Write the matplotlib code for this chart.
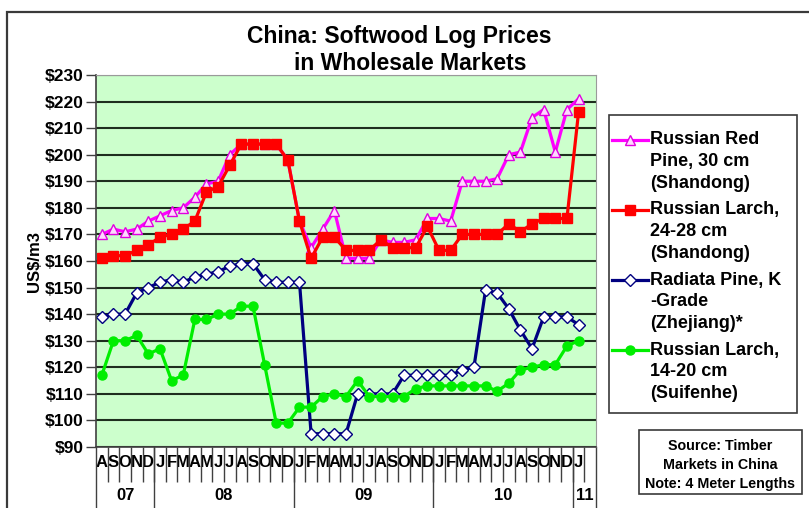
import matplotlib
matplotlib.use("Agg")
import matplotlib.pyplot as plt
from matplotlib.lines import Line2D
from matplotlib.patches import Rectangle
import matplotlib.transforms as mtransforms

plt.rcParams['font.family'] = ['Liberation Sans', 'DejaVu Sans']
plt.rcParams['font.weight'] = 'bold'

W, H = 809, 508

# monthly prices, Aug 2007 .. Jan 2011 (US$/m3)
red_pine = [170, 172, 171, 172, 175, 177, 179, 180, 184, 189, 190, 200, 204, 204,
            204, 204, 198, 175, 165, 172, 179, 161, 161, 161, 168, 167, 167, 168,
            176, 176, 175, 190, 190, 190, 191, 200, 201, 214, 217, 201, 217, 221]
larch_sd = [161, 162, 162, 164, 166, 169, 170, 172, 175, 186, 188, 196, 204, 204,
            204, 204, 198, 175, 161, 169, 169, 164, 164, 164, 168, 165, 165, 165,
            173, 164, 164, 170, 170, 170, 170, 174, 171, 174, 176, 176, 176, 216]
radiata = [139, 140, 140, 148, 150, 152, 153, 152, 154, 155, 156, 158, 159, 159,
           153, 152, 152, 152, 95, 95, 95, 95, 110, 110, 110, 110, 117, 117,
           117, 117, 117, 119, 120, 149, 148, 142, 134, 127, 139, 139, 139, 136]
larch_sf = [117, 130, 130, 132, 125, 127, 115, 117, 138, 138, 140, 140, 143, 143,
            121, 99, 99, 105, 105, 109, 110, 109, 115, 109, 109, 109, 109, 112,
            113, 113, 113, 113, 113, 113, 111, 114, 119, 120, 121, 121, 128, 130]

months = list("ASOND") + list("JFMAMJJASOND") * 3 + ["J", ""]
years = ["07", "08", "09", "10", "11"]
year_edges = [-0.5, 4.5, 16.5, 28.5, 40.5, 42.5]
yticks = list(range(90, 231, 10))

labels = ["Russian Red\nPine, 30 cm\n(Shandong)",
          "Russian Larch,\n24-28 cm\n(Shandong)",
          "Radiata Pine, K\n-Grade\n(Zhejiang)*",
          "Russian Larch,\n14-20 cm\n(Suifenhe)"]
series = [red_pine, larch_sd, radiata, larch_sf]
styles = [dict(color='#ff00ff', marker='^', mfc='#ffd8ff', mec='#e000e0', ms=7),
          dict(color='#ff0000', marker='s', mfc='#ff0000', mec='#ff0000', ms=6.5),
          dict(color='#000080', marker='D', mfc='white', mec='#000080', ms=6),
          dict(color='#00ee00', marker='o', mfc='#00ee00', mec='#00ee00', ms=6.5)]


def fx(x):
    return x / W


def fy(y):
    return 1 - y / H


fig = plt.figure(figsize=(W / 100, H / 100), dpi=100)
fig.patch.set_facecolor('white')

# outer frame
fig.add_artist(Rectangle((fx(7), fy(520)), fx(830), fy(12) - fy(520),
                         transform=fig.transFigure, fill=False,
                         edgecolor='#3a3a3a', lw=1.6))

ax = fig.add_axes([fx(96), fy(447), fx(500), (447 - 75) / H])
ax.set_facecolor('#ccffcc')

x = list(range(len(red_pine)))
for vals, st in zip(series, styles):
    ax.plot(x, vals, lw=2.3, **st)

ax.set_xlim(-0.5, 42.5)
ax.set_ylim(90, 230)
ax.set_yticks(yticks)
ax.set_yticklabels(['$%d' % v for v in yticks], fontsize=12.5, fontweight='bold')
ax.tick_params(axis='y', length=7, width=1, color='#404040', pad=2)
ax.grid(axis='y', color='#1e2e1e', lw=1.5)
ax.set_axisbelow(True)

ax.set_xticks(range(len(months)))
ax.set_xticklabels(months, fontsize=12, fontweight='bold')
ax.tick_params(axis='x', which='major', length=0, pad=6)
ax.set_xticks([i - 0.5 for i in range(1, 43)], minor=True)
ax.tick_params(axis='x', which='minor', length=25, width=1, color='#404040')

for s in ['top', 'right']:
    ax.spines[s].set_color('#9a9a9a')
for s in ['left', 'bottom']:
    ax.spines[s].set_color('#404040')
    ax.spines[s].set_linewidth(1.2)

trans = mtransforms.blended_transform_factory(ax.transData, ax.transAxes)
for e in year_edges:
    ax.plot([e, e], [0, -0.2], transform=trans, color='#404040', lw=1,
            clip_on=False)
for i, yr in enumerate(years):
    c = (year_edges[i] + year_edges[i + 1]) / 2
    ax.text(c, -0.13, yr, transform=trans, ha='center', va='center',
            fontsize=12, fontweight='bold')

ax.set_ylabel('US$/m3', fontsize=12, fontweight='bold', labelpad=2)

# title
fig.text(fx(399), fy(37), 'China: Softwood Log Prices', ha='center',
         va='center', fontsize=16.5, fontweight='bold')
fig.text(fx(410), fy(63), 'in Wholesale Markets', ha='center', va='center',
         fontsize=16.5, fontweight='bold')

# legend
fig.add_artist(Rectangle((fx(609), fy(413)), fx(797 - 609), fy(115) - fy(413),
                         transform=fig.transFigure, fill=False,
                         edgecolor='#3a3a3a', lw=1.2))
for k, (lab, st) in enumerate(zip(labels, styles)):
    y0 = 140 + 70 * k
    fig.add_artist(Line2D([fx(612), fx(648)], [fy(y0), fy(y0)], lw=2.3,
                          transform=fig.transFigure, **st, markevery=[]))
    fig.add_artist(Line2D([fx(630)], [fy(y0)], transform=fig.transFigure,
                          ls='none', **{k2: v for k2, v in st.items() if k2 != 'color'}))
    for j, line in enumerate(lab.split('\n')):
        fig.text(fx(650), fy(y0 + 21.7 * j), line, ha='left', va='center',
                 fontsize=13, fontweight='bold')

# source note
fig.add_artist(Rectangle((fx(639), fy(494)), fx(802 - 639), fy(430) - fy(494),
                         transform=fig.transFigure, fill=False,
                         edgecolor='#3a3a3a', lw=1.2))
for j, line in enumerate(["Source: Timber", "Markets in China",
                          "Note: 4 Meter Lengths"]):
    fig.text(fx(720), fy(446 + 19 * j), line, ha='center', va='center',
             fontsize=10.3, fontweight='bold')

fig.savefig('out.png', dpi=100, facecolor='white')
